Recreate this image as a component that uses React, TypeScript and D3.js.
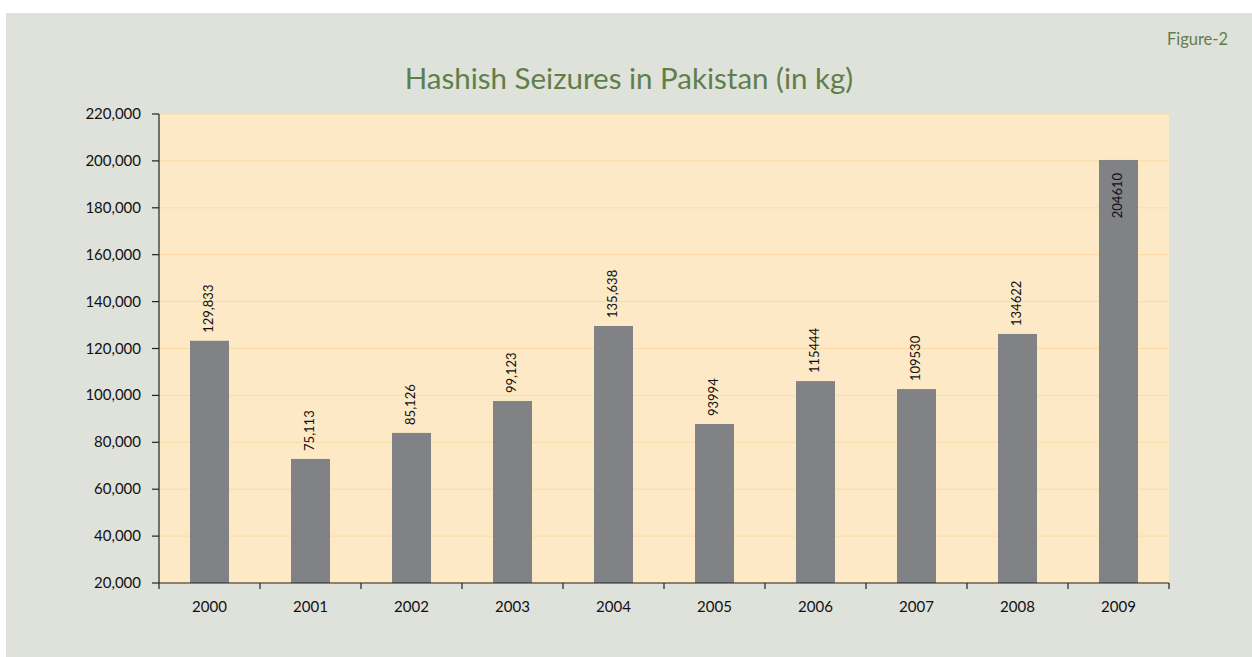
import React from "react";
import * as d3 from "d3";

const years = ["2000", "2001", "2002", "2003", "2004", "2005", "2006", "2007", "2008", "2009"];
const barValues = [123300, 72900, 84000, 97600, 129600, 87800, 106100, 102700, 126200, 200400];
const labelTexts = ["129,833", "75,113", "85,126", "99,123", "135,638", "93994", "115444", "109530", "134622", "204610"];
const yTicks = [20000, 40000, 60000, 80000, 100000, 120000, 140000, 160000, 180000, 200000, 220000];

const W = 1252;
const H = 657;
const plot = { left: 159, right: 1169, top: 114, bottom: 583 };
const FONT = "Lato, 'Open Sans', sans-serif";

export default function App() {
  const x = d3.scaleBand<string>().domain(years).range([plot.left, plot.right]).paddingInner(0.614).paddingOuter(0.307);
  const y = d3.scaleLinear().domain([20000, 220000]).range([plot.bottom, plot.top]);
  const fmt = d3.format(",");
  const step = x.step();

  return (
    <svg width={W} height={H} style={{ position: "absolute", left: 0, top: 0 }} fontFamily={FONT}>
      <rect x={0} y={0} width={W} height={H} fill="#ffffff" />
      <rect x={6} y={13} width={W - 6} height={H - 13} fill="#dfe1db" />
      <text x={1228} y={45} textAnchor="end" fontSize={16.5} fill="#5f7f4a">Figure-2</text>
      <text x={629} y={89} textAnchor="middle" fontSize={29.5} fill="#5f7f4a">Hashish Seizures in Pakistan (in kg)</text>

      <rect x={plot.left} y={plot.top} width={plot.right - plot.left} height={plot.bottom - plot.top} fill="#fee9c6" />
      {yTicks.map((t) => (
        <line key={"g" + t} x1={plot.left} x2={plot.right} y1={y(t)} y2={y(t)} stroke="#fcdaa5" strokeWidth={1} />
      ))}

      {years.map((yr, i) => (
        <rect key={"b" + yr} x={x(yr)} y={y(barValues[i])} width={x.bandwidth()} height={plot.bottom - y(barValues[i])} fill="#818286" />
      ))}

      {years.map((yr, i) => {
        const cx = (x(yr) as number) + x.bandwidth() / 2;
        const top = y(barValues[i]);
        const labelLen = labelTexts[i].length * 7.5;
        const outside = top - 8 - labelLen > plot.top;
        const endY = outside ? top - 8 : top + 13;
        return (
          <text
            key={"l" + yr}
            transform={`translate(${cx + 3},${endY}) rotate(-90)`}
            textAnchor={outside ? "start" : "end"}
            fontSize={13}
            fill="#111"
          >
            {labelTexts[i]}
          </text>
        );
      })}

      <line x1={plot.left} x2={plot.left} y1={plot.top} y2={plot.bottom} stroke="#222" strokeWidth={1.2} />
      <line x1={plot.left} x2={plot.right} y1={plot.bottom} y2={plot.bottom} stroke="#222" strokeWidth={1.2} />
      {yTicks.map((t) => (
        <g key={"yt" + t}>
          <line x1={plot.left - 7} x2={plot.left} y1={y(t)} y2={y(t)} stroke="#222" strokeWidth={1.2} />
          <text x={141} y={y(t) + 5} textAnchor="end" fontSize={15} fill="#111">{fmt(t)}</text>
        </g>
      ))}
      {d3.range(years.length + 1).map((k) => (
        <line key={"xt" + k} x1={plot.left + k * step} x2={plot.left + k * step} y1={plot.bottom} y2={plot.bottom + 6} stroke="#222" strokeWidth={1.2} />
      ))}
      {years.map((yr) => (
        <text key={"xl" + yr} x={(x(yr) as number) + x.bandwidth() / 2} y={612} textAnchor="middle" fontSize={15} fill="#111">{yr}</text>
      ))}
    </svg>
  );
}
